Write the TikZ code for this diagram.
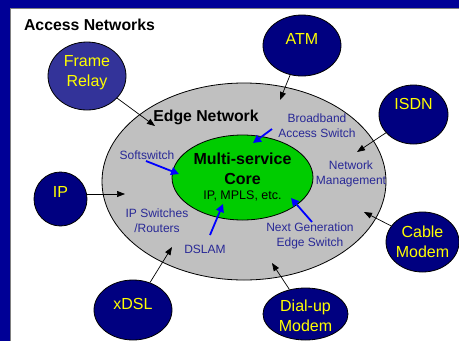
\documentclass[tikz,border=0pt]{standalone}
\usepackage{fontspec}
\setmainfont{Liberation Sans}
\usetikzlibrary{shapes.geometric,arrows.meta}
\definecolor{frameblue}{RGB}{0,0,150}
\definecolor{netnavy}{RGB}{0,0,128}
\definecolor{netlight}{RGB}{51,51,153}
\definecolor{edgegray}{RGB}{192,192,192}
\definecolor{coregreen}{RGB}{0,204,0}
\definecolor{netyellow}{RGB}{255,255,0}
\definecolor{lblblue}{RGB}{40,40,150}
\definecolor{arrblue}{RGB}{0,0,255}
\tikzset{
  netnode/.style={ellipse, draw=black, line width=0.8pt, fill=netnavy, inner sep=0pt},
  nettext/.style={text=netyellow, font=\fontsize{16}{20}\selectfont, align=center, inner sep=0pt},
  lbl/.style={text=lblblue, font=\fontsize{12}{14.5}\selectfont, align=center, inner sep=0pt},
  heading/.style={font=\bfseries\fontsize{15.8}{18}\selectfont, inner sep=0pt},
  coretitle/.style={font=\bfseries\fontsize{16}{20}\selectfont, align=center, inner sep=0pt},
  coresub/.style={font=\fontsize{12.5}{14}\selectfont, inner sep=0pt},
  accarrow/.style={draw=black, line width=0.7pt, -{Triangle[length=8pt,width=6pt]}},
  bluearrow/.style={draw=arrblue, line width=1.8pt, -{Triangle[length=8pt,width=8pt]}}
}
\begin{document}
\begin{tikzpicture}[x=1pt,y=-1pt]
\useasboundingbox (0,0) rectangle (459,341);
% frame
\fill[frameblue] (0,0) rectangle (459,341);
\fill[white] (10,8) rectangle (459,341);
\draw[gray, line width=0.8pt] (10,341) -- (10,8) -- (459,8);
% edge and core
\node[ellipse, draw=black, line width=0.8pt, fill=edgegray, minimum width=284, minimum height=197, inner sep=0pt] (edge) at (244,181.5) {};
\node[ellipse, draw=black, line width=0.8pt, fill=coregreen, minimum width=141, minimum height=85, inner sep=0pt,
  label={[coretitle, yshift=8.5]center:{Multi-service\\Core}},
  label={[coresub, yshift=-18.5]center:{IP, MPLS, etc.}}] (core) at (242.5,177.5) {};
\node[heading] (acc) at (89.5,25) {Access Networks};
\node[heading] (edgelbl) at (206,117) {Edge Network};
% access networks
\node[netnode, fill=netlight, minimum width=78, minimum height=68, label={[nettext, yshift=3]center:{Frame\\Relay}}] (fr) at (87,76) {};
\node[netnode, minimum width=78, minimum height=61, label={[nettext, yshift=6.5]center:{ATM}}] (atm) at (302,45.5) {};
\node[netnode, minimum width=69, minimum height=59, label={[nettext, yshift=10.5]center:{ISDN}}] (isdn) at (413.5,114.5) {};
\node[netnode, minimum width=53, minimum height=54, label={[nettext, yshift=7]center:{IP}}] (ip) at (60.5,199) {};
\node[netnode, minimum width=78, minimum height=60, label={[nettext, yshift=6]center:{xDSL}}] (xdsl) at (133,310) {};
\node[netnode, minimum width=73, minimum height=60, label={[nettext]center:{Cable\\Modem}}] (cable) at (422.5,242) {};
\node[netnode, minimum width=85, minimum height=52, label={[nettext, yshift=-2]center:{Dial-up\\Modem}}] (dial) at (305.5,314) {};
% edge labels
\node[lbl] (bb) at (317,125.5) {Broadband\\Access Switch};
\node[lbl] (nm) at (351,174) {Network\\Management};
\node[lbl] (soft) at (147,155.5) {Softswitch};
\node[lbl] (ipsw) at (157,220.5) {IP Switches\\/Routers};
\node[lbl] (dslam) at (205,249.5) {DSLAM};
\node[lbl] (ngen) at (310,236) {Next Generation\\Edge Switch};
% arrow end points
\coordinate (frend) at (155,126);
\coordinate (atmend) at (280,100);
\coordinate (isdnend) at (357,152);
\coordinate (ipend) at (125,194);
\coordinate (xdslend) at (172,247);
\coordinate (cableend) at (364,212);
\coordinate (dialend) at (272,263);
\draw[accarrow] (fr) -- (frend);
\draw[accarrow] (atm) -- (atmend);
\draw[accarrow] (isdn) -- (isdnend);
\draw[accarrow] (ipend -| ip.east) -- (ipend);
\draw[accarrow] (xdsl) -- (xdslend);
\draw[accarrow] (cable) -- (cableend);
\draw[accarrow] (dial) -- (dialend);
% blue arrows
\coordinate (softs) at (146,161);
\coordinate (softe) at (179,174);
\coordinate (bbs) at (272,129);
\coordinate (bbe) at (253,143);
\coordinate (dslams) at (210,235);
\coordinate (dslame) at (223,204);
\coordinate (ngens) at (312,222);
\coordinate (ngene) at (291,198);
\draw[bluearrow] (softs) -- (softe);
\draw[bluearrow] (bbs) -- (bbe);
\draw[bluearrow] (dslams) -- (dslame);
\draw[bluearrow] (ngens) -- (ngene);
\end{tikzpicture}
\end{document}
